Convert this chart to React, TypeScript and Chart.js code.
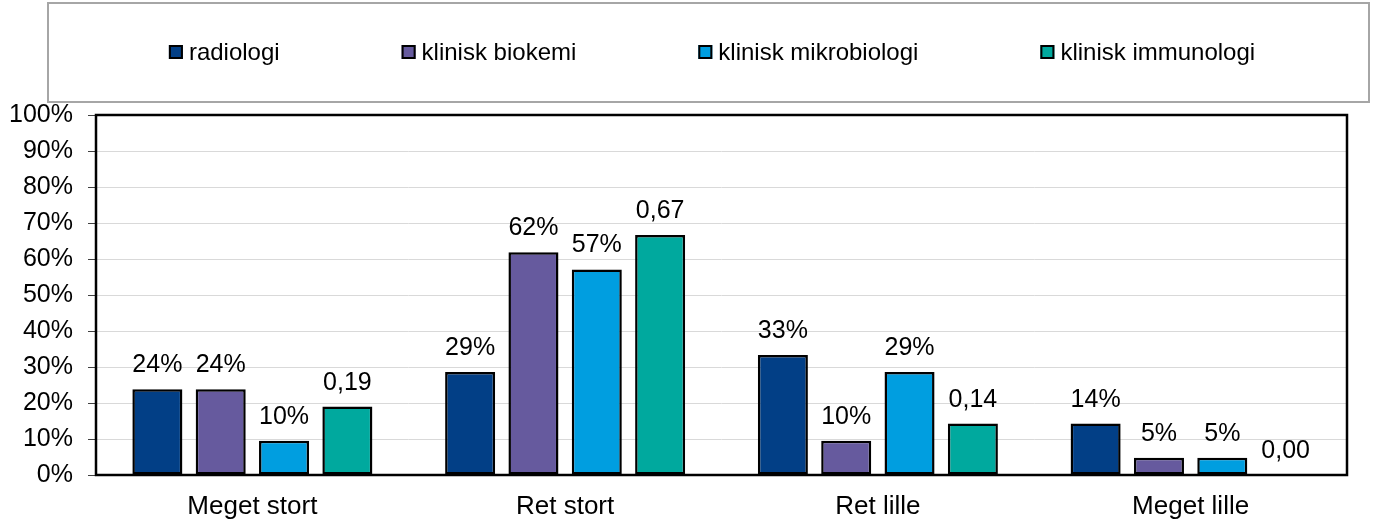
import React, { useEffect, useRef } from "react";
import { Chart, registerables } from "chart.js";

Chart.register(...registerables);

const categories = ["Meget stort", "Ret stort", "Ret lille", "Meget lille"];
const seriesNames = ["radiologi", "klinisk biokemi", "klinisk mikrobiologi", "klinisk immunologi"];
const radiologi = [0.238, 0.286, 0.333, 0.143];
const biokemi = [0.238, 0.619, 0.0952, 0.048];
const mikrobiologi = [0.0952, 0.571, 0.286, 0.048];
const immunologi = [0.19, 0.667, 0.143, 0];
const seriesColors = ["#023F86", "#665A9E", "#009EE0", "#00A99E"];
const labelFormats = ["pct", "pct", "pct", "dec"];
const yTicks = [0, 0.1, 0.2, 0.3, 0.4, 0.5, 0.6, 0.7, 0.8, 0.9, 1];

const FONT = "'Liberation Sans', Arial, Helvetica, sans-serif";
const FS_LEGEND = 24;
const FS_TICK = 25;
const FS_X = 26;
const FS_LABEL = 25;

const fmt = (v: number, kind: string) =>
  kind === "pct" ? `${Math.round(v * 100)}%` : v.toFixed(2).replace(".", ",");

const decorPlugin = {
  id: "decor",
  afterDatasetsDraw(chart: any) {
    const ctx = chart.ctx;
    const a = chart.chartArea;
    ctx.save();
    // plot border
    ctx.strokeStyle = "#000";
    ctx.lineWidth = 2.5;
    ctx.strokeRect(a.left, a.top, a.right - a.left, a.bottom - a.top);
    // data labels
    ctx.fillStyle = "#000";
    ctx.font = `${FS_LABEL}px ${FONT}`;
    ctx.textAlign = "center";
    ctx.textBaseline = "alphabetic";
    chart.data.datasets.forEach((ds: any, i: number) => {
      const meta = chart.getDatasetMeta(i);
      meta.data.forEach((el: any, j: number) => {
        const v = ds.data[j];
        ctx.fillText(fmt(v, labelFormats[i]), el.x, el.y - 17);
      });
    });
    // legend box
    ctx.strokeStyle = "#a6a6a6";
    ctx.lineWidth = 2;
    ctx.strokeRect(48, 3, 1321, 99);
    // legend items
    ctx.font = `${FS_LEGEND}px ${FONT}`;
    const gap = 122;
    const box = 14;
    const textOff = 20;
    const itemW = seriesNames.map((n) => textOff + ctx.measureText(n).width);
    const total = itemW.reduce((s, w) => s + w, 0) + gap * (seriesNames.length - 1);
    let x = 712 - total / 2;
    ctx.textAlign = "left";
    seriesNames.forEach((n, i) => {
      ctx.fillStyle = seriesColors[i];
      ctx.fillRect(x, 45, box, box);
      ctx.strokeStyle = "#000";
      ctx.lineWidth = 2;
      ctx.strokeRect(x + 1, 46, box - 2, box - 2);
      ctx.fillStyle = "#000";
      ctx.fillText(n, x + textOff, 59.5);
      x += itemW[i] + gap;
    });
    ctx.restore();
  },
};

export default function App() {
  const ref = useRef<HTMLCanvasElement>(null);
  useEffect(() => {
    if (!ref.current) return;
    const data = [radiologi, biokemi, mikrobiologi, immunologi];
    const chart = new Chart(ref.current, {
      type: "bar",
      data: {
        labels: categories,
        datasets: data.map((d, i) => ({
          label: seriesNames[i],
          data: d,
          backgroundColor: seriesColors[i],
          borderColor: "#000",
          borderWidth: 2.5,
          borderSkipped: false,
          categoryPercentage: 0.81,
          barPercentage: 0.79,
        })),
      },
      options: {
        animation: false,
        responsive: false,
        events: [],
        layout: { padding: { top: 115, right: 28, left: 0, bottom: 0 } },
        plugins: { legend: { display: false }, tooltip: { enabled: false } },
        scales: {
          x: {
            grid: { display: false, drawTicks: false },
            border: { display: false },
            ticks: { color: "#000", font: { family: FONT, size: FS_X }, padding: 16 },
            afterFit: (s: any) => {
              s.height = 46;
            },
          },
          y: {
            min: 0,
            max: 1,
            afterBuildTicks: (s: any) => {
              s.ticks = yTicks.map((v) => ({ value: v }));
            },
            ticks: {
              color: "#000",
              font: { family: FONT, size: FS_TICK },
              padding: 15,
              callback: (v: any) => `${Math.round(Number(v) * 100)}%`,
            },
            grid: { color: "#d9d9d9", tickColor: "#404040", tickLength: 8, lineWidth: 1 },
            border: { display: false },
            afterFit: (s: any) => {
              s.width = 96;
            },
          },
        },
      },
      plugins: [decorPlugin],
    });
    return () => chart.destroy();
  }, []);
  return (
    <div style={{ position: "fixed", left: 0, top: 0, width: 1375, height: 521, background: "#fff" }}>
      <canvas ref={ref} width={1375} height={521} style={{ display: "block" }} />
    </div>
  );
}
